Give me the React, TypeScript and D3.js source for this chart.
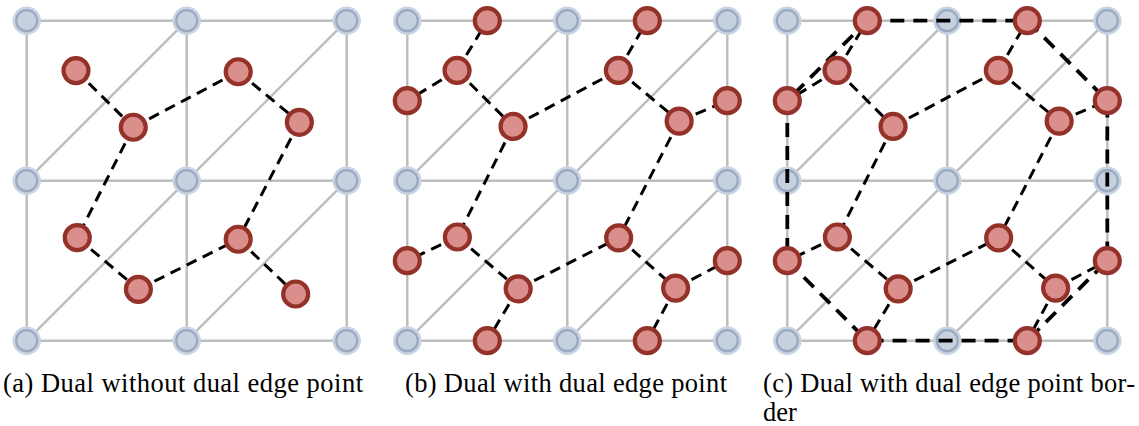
import React from "react";
import * as d3 from "d3";

// Grid (primal mesh) vertices in cell units, y pointing down
const gridCoords = [0, 1, 2];
// Diagonals: bottom-left to top-right of each cell
const diagonals: [number, number, number, number][] = [
  [0, 1, 1, 0],
  [1, 1, 2, 0],
  [0, 2, 1, 1],
  [1, 2, 2, 1],
];

// Dual (triangle) points, panel (a)
const dualPointsA: [number, number][] = [
  [0.308, 0.312],
  [0.666, 0.666],
  [1.322, 0.319],
  [1.704, 0.635],
  [0.316, 1.356],
  [0.698, 1.679],
  [1.322, 1.366],
  [1.681, 1.708],
];
// Dual (triangle) points, panels (b) and (c)
const dualPointsBC: [number, number][] = [
  [0.311, 0.311],
  [0.661, 0.661],
  [1.319, 0.311],
  [1.699, 0.628],
  [0.313, 1.352],
  [0.693, 1.676],
  [1.321, 1.357],
  [1.677, 1.671],
];
// Dual edge points (midpoints of boundary edges)
const edgePoints: [number, number][] = [
  [0.5, 0],
  [1.5, 0],
  [0, 0.5],
  [0, 1.5],
  [2, 0.5],
  [2, 1.5],
  [0.5, 2],
  [1.5, 2],
];
// Edges between dual points (indices into dual array)
const dualEdges: [number, number][] = [
  [0, 1], [1, 2], [2, 3], [1, 4], [3, 6], [4, 5], [5, 6], [6, 7],
];
// Edges dual point -> edge point (second index into edgePoints)
const edgePointLinks: [number, number][] = [
  [0, 0], [0, 2], [2, 1], [3, 4], [4, 3], [5, 6], [7, 5], [7, 7],
];
// Border loop through edge points
const borderLoop = [0, 1, 4, 5, 7, 6, 3, 2];

const captions = [
  ["(a) Dual without dual edge point"],
  ["(b) Dual with dual edge point"],
  ["(c) Dual with dual edge point bor-", "der"],
];

const W = 1139;
const H = 426;
const panelLeft = [26.7, 407.3, 787.3];
const top = 20.7;
const span = 320;

const GRID = "#bdbdbd";
const RED_FILL = "#da8f8c";
const RED_STROKE = "#943128";

function Panel({ idx }: { idx: number }) {
  const x = d3.scaleLinear().domain([0, 2]).range([panelLeft[idx], panelLeft[idx] + span]);
  const y = d3.scaleLinear().domain([0, 2]).range([top, top + span]);
  const pts = idx === 0 ? dualPointsA : dualPointsBC;
  const line = d3.line<[number, number]>().x((d) => x(d[0])).y((d) => y(d[1]));
  const borderPath = line.curve(d3.curveLinearClosed)(borderLoop.map((i) => edgePoints[i]));
  return (
    <g>
      {gridCoords.map((g) => (
        <g key={"g" + g}>
          <line x1={x(0)} x2={x(2)} y1={y(g)} y2={y(g)} stroke={GRID} strokeWidth={2.4} />
          <line x1={x(g)} x2={x(g)} y1={y(0)} y2={y(2)} stroke={GRID} strokeWidth={2.4} />
        </g>
      ))}
      {diagonals.map((d, i) => (
        <line key={"d" + i} x1={x(d[0])} y1={y(d[1])} x2={x(d[2])} y2={y(d[3])} stroke={GRID} strokeWidth={2.4} />
      ))}
      {gridCoords.map((gx) =>
        gridCoords.map((gy) => (
          <g key={`v${gx}-${gy}`}>
            <circle cx={x(gx)} cy={y(gy)} r={14.2} fill="#c9d3e1" />
            <circle cx={x(gx)} cy={y(gy)} r={10.5} fill="#c6d1e0" stroke="#98a9c0" strokeWidth={2.2} />
          </g>
        ))
      )}
      {dualEdges.map(([a, b], i) => (
        <line key={"e" + i} x1={x(pts[a][0])} y1={y(pts[a][1])} x2={x(pts[b][0])} y2={y(pts[b][1])}
          stroke="#000" strokeWidth={3} strokeDasharray="11 7" />
      ))}
      {idx > 0 && edgePointLinks.map(([a, b], i) => (
        <line key={"l" + i} x1={x(pts[a][0])} y1={y(pts[a][1])} x2={x(edgePoints[b][0])} y2={y(edgePoints[b][1])}
          stroke="#000" strokeWidth={3} strokeDasharray="11 7" />
      ))}
      {idx === 2 && (
        <path d={borderPath || ""} fill="none" stroke="#000" strokeWidth={3.8} strokeDasharray="14 9" />
      )}
      {pts.map((p, i) => (
        <circle key={"p" + i} cx={x(p[0])} cy={y(p[1])} r={12.5} fill={RED_FILL} stroke={RED_STROKE} strokeWidth={4.2} />
      ))}
      {idx > 0 && edgePoints.map((p, i) => (
        <circle key={"q" + i} cx={x(p[0])} cy={y(p[1])} r={12.5} fill={RED_FILL} stroke={RED_STROKE} strokeWidth={4.2} />
      ))}
    </g>
  );
}

const captionX = [3, 405, 763];
const captionW = [360, 322, 372];

export default function App() {
  return (
    <svg width={W} height={H} style={{ position: "absolute", left: 0, top: 0, background: "#fff" }}>
      {[0, 1, 2].map((i) => (
        <Panel key={i} idx={i} />
      ))}
      {captions.map((lines, i) =>
        lines.map((t, j) => (
          <text key={`c${i}-${j}`} x={captionX[i]} y={392 + j * 29}
            style={{ fontFamily: '"Liberation Serif", serif', fontSize: "26.5px" }} fill="#000"
            textLength={j === 0 ? captionW[i] : undefined} lengthAdjust="spacing">
            {t}
          </text>
        ))
      )}
    </svg>
  );
}
